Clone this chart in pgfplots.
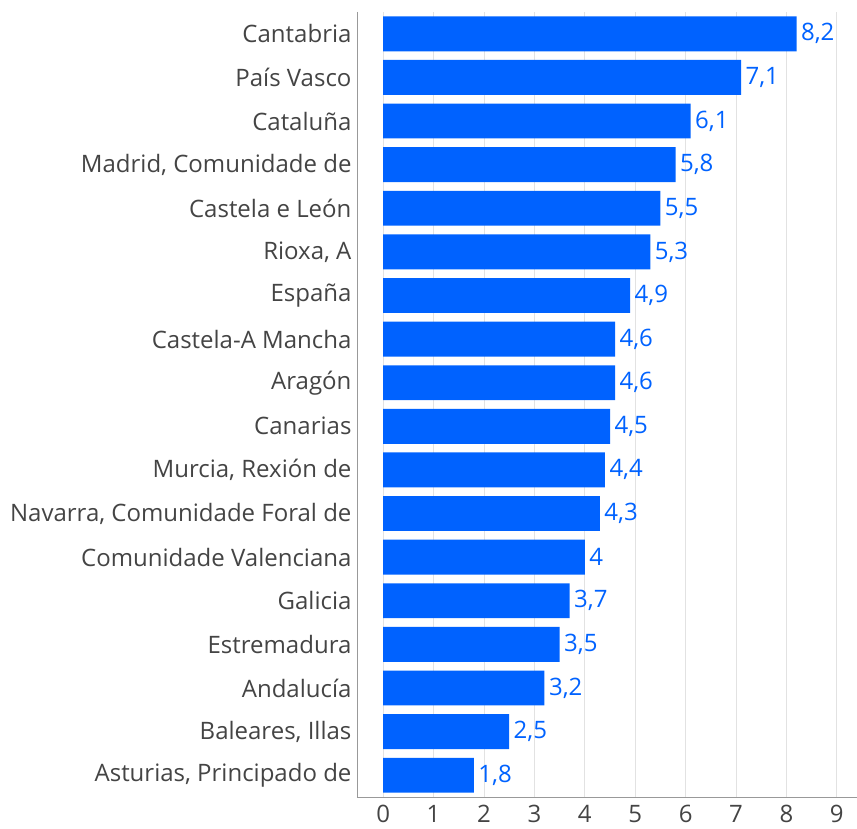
\documentclass[border=0pt]{standalone}
\usepackage{pgfplots}
\pgfplotsset{compat=1.18}
\usepackage{pgfplotstable}
\usepackage{fontspec}
\setmainfont{Open Sans}
\definecolor{barblue}{HTML}{0062FF}
\definecolor{labgray}{HTML}{444444}
\definecolor{axgray}{HTML}{999999}
\definecolor{gridgray}{HTML}{E2E2E2}
\pgfplotstableread[col sep=semicolon]{
idx;val;name
0;8.2;Cantabria
1;7.1;País Vasco
2;6.1;Cataluña
3;5.8;{Madrid, Comunidade de}
4;5.5;Castela e León
5;5.3;{Rioxa, A}
6;4.9;España
7;4.6;Castela-A Mancha
8;4.6;Aragón
9;4.5;Canarias
10;4.4;{Murcia, Rexión de}
11;4.3;{Navarra, Comunidade Foral de}
12;4;Comunidade Valenciana
13;3.7;Galicia
14;3.5;Estremadura
15;3.2;Andalucía
16;2.5;{Baleares, Illas}
17;1.8;{Asturias, Principado de}
}\datatable
\begin{document}
\begin{tikzpicture}
\begin{axis}[
  at={(0,0)}, anchor=south west,
  scale only axis,
  width=500pt, height=785pt,
  xbar, bar width=0.8,
  xmin=-0.52, xmax=9.4,
  ymin=-0.5, ymax=17.5,
  y dir=reverse,
  axis lines*=left,
  axis line style={axgray, line width=0.8pt},
  xtick={0,1,...,9},
  ytick={0,1,...,17},
  yticklabels from table={\datatable}{name},
  major tick length=0pt,
  xmajorgrids,
  major grid style={gridgray, line width=0.8pt},
  /pgf/number format/assume math mode=true,
  /pgf/number format/use comma,
  font=\fontsize{24}{28}\selectfont,
  ticklabel style={labgray, font=\fontsize{24}{28}\selectfont},
  yticklabel style={anchor=east, xshift=-2pt},
  xticklabel style={yshift=-5pt},
  nodes near coords,
  nodes near coords style={barblue, font=\fontsize{24}{28}\selectfont, anchor=west, xshift=1pt},
  clip=false,
]
\addplot[fill=barblue, draw=none] table[x=val, y=idx] {\datatable};
\end{axis}
\pgfresetboundingbox
\path (-357pt,-32pt) rectangle (500pt,797pt);
\end{tikzpicture}
\end{document}
